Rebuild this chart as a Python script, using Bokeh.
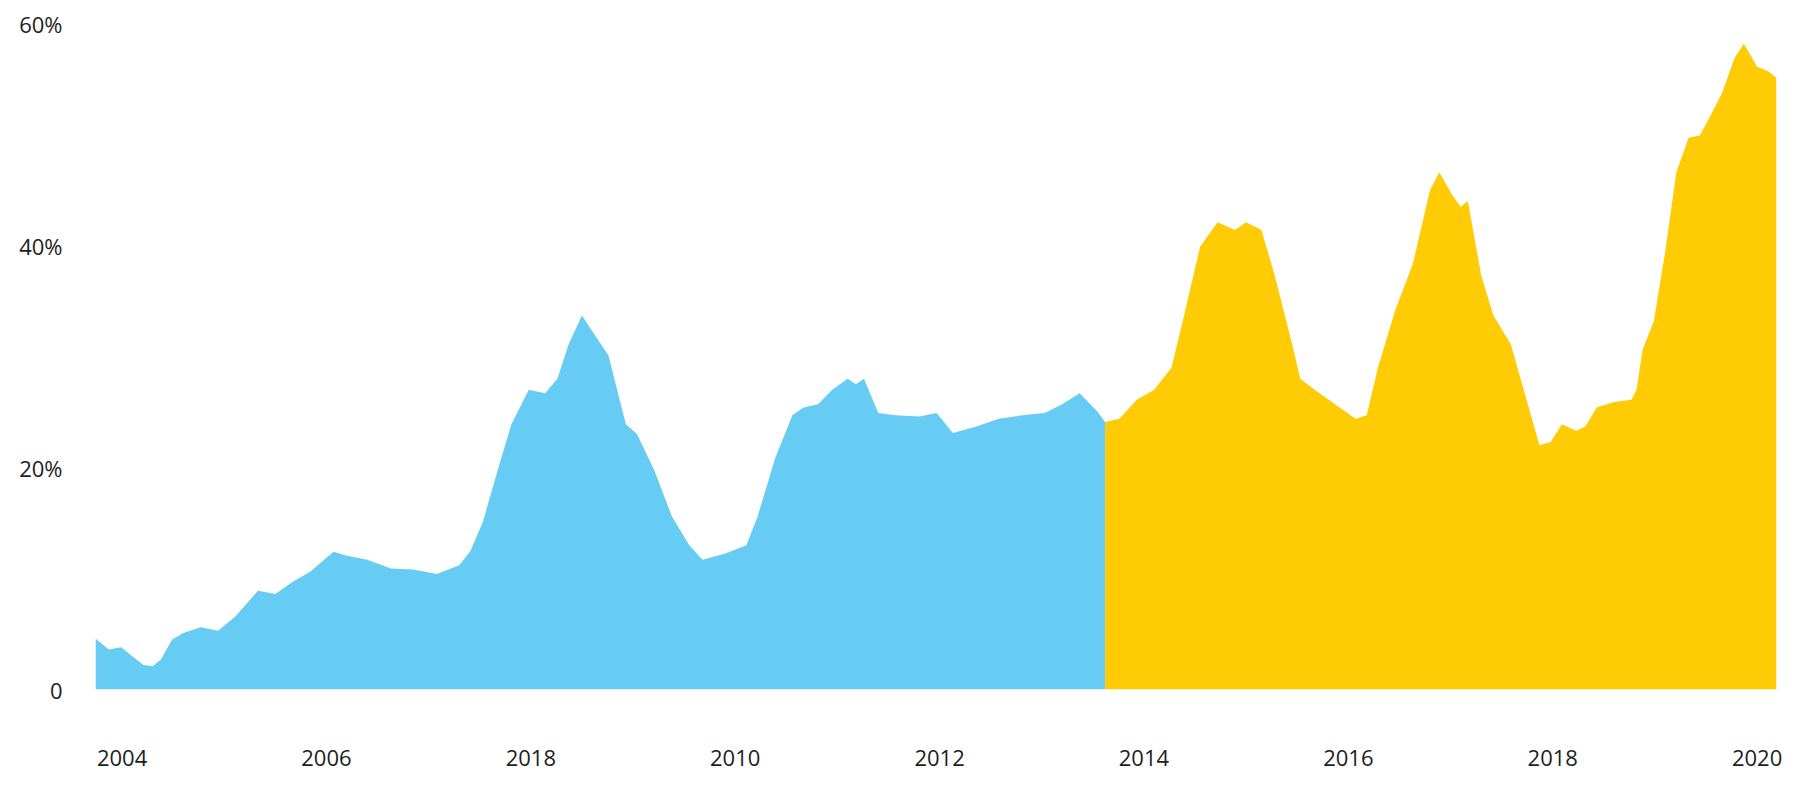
from bokeh.plotting import figure
from bokeh.models import Range1d, FixedTicker
from bokeh.embed import file_html
from bokeh.resources import INLINE

# ---- data (share, %) ----
blue_years = [2003.74, 2003.87, 2003.99, 2004.10, 2004.21, 2004.30, 2004.38, 2004.49,
              2004.60, 2004.77, 2004.94, 2005.11, 2005.33, 2005.50, 2005.67, 2005.84,
              2006.07, 2006.18, 2006.40, 2006.63, 2006.85, 2007.08, 2007.30, 2007.41,
              2007.53, 2007.69, 2007.81, 2007.98, 2008.14, 2008.26, 2008.37, 2008.50,
              2008.65, 2008.76, 2008.93, 2009.04, 2009.21, 2009.38, 2009.55, 2009.68,
              2009.89, 2010.11, 2010.22, 2010.39, 2010.56, 2010.67, 2010.81, 2010.95,
              2011.10, 2011.18, 2011.26, 2011.40, 2011.57, 2011.80, 2011.97, 2012.13,
              2012.36, 2012.58, 2012.81, 2013.03, 2013.20, 2013.37, 2013.54, 2013.62]
blue_vals = [4.6, 3.6, 3.8, 3.0, 2.2, 2.1, 2.7, 4.5,
             5.1, 5.6, 5.3, 6.6, 8.9, 8.6, 9.7, 10.6,
             12.4, 12.1, 11.7, 10.9, 10.8, 10.4, 11.2, 12.5,
             15.1, 20.2, 23.9, 27.0, 26.7, 28.0, 31.1, 33.7,
             31.6, 30.1, 23.9, 23.0, 19.7, 15.6, 13.0, 11.7,
             12.2, 13.0, 15.6, 20.8, 24.7, 25.4, 25.7, 27.0,
             28.0, 27.5, 28.0, 24.9, 24.7, 24.6, 24.9, 23.1,
             23.7, 24.4, 24.7, 24.9, 25.7, 26.7, 25.1, 24.1]

yellow_years = [2013.62, 2013.76, 2013.93, 2014.10, 2014.27, 2014.38, 2014.55, 2014.72,
                2014.89, 2015.00, 2015.15, 2015.28, 2015.45, 2015.53, 2015.67, 2015.84,
                2016.07, 2016.18, 2016.29, 2016.46, 2016.63, 2016.80, 2016.89, 2017.02,
                2017.10, 2017.17, 2017.30, 2017.42, 2017.59, 2017.75, 2017.87, 2017.98,
                2018.09, 2018.23, 2018.32, 2018.43, 2018.60, 2018.77, 2018.82, 2018.88,
                2018.99, 2019.10, 2019.21, 2019.33, 2019.44, 2019.55, 2019.66, 2019.78,
                2019.87, 2020.00, 2020.11, 2020.19]
yellow_vals = [24.1, 24.4, 26.1, 27.0, 29.0, 33.2, 39.9, 42.1,
               41.4, 42.1, 41.4, 37.3, 31.1, 28.0, 27.0, 25.9,
               24.4, 24.7, 29.0, 34.2, 38.3, 45.0, 46.6, 44.5,
               43.5, 44.0, 37.3, 33.7, 31.1, 25.9, 22.0, 22.3,
               23.9, 23.3, 23.7, 25.4, 25.9, 26.1, 27.0, 30.6,
               33.2, 39.4, 46.6, 49.7, 49.9, 51.8, 53.8, 56.9,
               58.2, 56.1, 55.7, 55.1]

x_ticks = [2004, 2006, 2008, 2010, 2012, 2014, 2016, 2018, 2020]
x_tick_labels = ["2004", "2006", "2018", "2010", "2012", "2014", "2016", "2018", "2020"]
y_ticks = [0, 20, 40, 60]
y_tick_labels = ["0", "20%", "40%", "60%"]

BLUE = "#66CCF3"
YELLOW = "#FFCB05"
FONT = "Open Sans"

W, H = 1793, 783
p = figure(width=W, height=H, output_backend="svg", toolbar_location=None,
           x_range=Range1d(2003.74, 2020.19), y_range=Range1d(0, 60),
           min_border_left=95, min_border_right=W - 1776, min_border_top=23,
           min_border_bottom=H - 689)
p.outline_line_color = None
p.grid.visible = False
p.background_fill_color = "white"

p.varea(x=blue_years, y1=0, y2=blue_vals, fill_color=BLUE)
p.varea(x=yellow_years, y1=0, y2=yellow_vals, fill_color=YELLOW)

for ax in (p.xaxis[0], p.yaxis[0]):
    ax.axis_line_color = None
    ax.major_tick_line_color = None
    ax.minor_tick_line_color = None
    ax.major_tick_out = 0
    ax.major_label_text_font = FONT
    ax.major_label_text_font_size = "22px"
    ax.major_label_text_color = "#1e1e1e"

p.xaxis.ticker = FixedTicker(ticks=x_ticks)
p.xaxis.major_label_overrides = {t: s for t, s in zip(x_ticks, x_tick_labels)}
p.xaxis.major_label_standoff = 60

p.yaxis.ticker = FixedTicker(ticks=y_ticks)
p.yaxis.major_label_overrides = {t: s for t, s in zip(y_ticks, y_tick_labels)}
p.yaxis.major_label_standoff = 33

open("out.html", "w").write(file_html(p, INLINE))
